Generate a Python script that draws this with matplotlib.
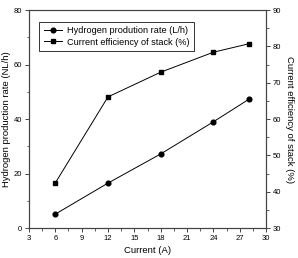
import numpy as np
import matplotlib.pyplot as plt

plt.rcParams['font.family'] = ['Liberation Sans', 'DejaVu Sans']

current = [6, 12, 18, 24, 28]
h2_rate = [5.1, 16.5, 27.2, 39.0, 47.2]
efficiency = [42.4, 66.1, 72.9, 78.4, 80.7]

fig = plt.figure(figsize=(2.98, 2.58), dpi=100)
ax = fig.add_axes([0.097, 0.116, 0.796, 0.845])
ax2 = ax.twinx()

l1, = ax.plot(current, h2_rate, 'o-', color='black', ms=3.4, lw=0.7,
              label='Hydrogen prodution rate (L/h)')
l2, = ax2.plot(current, efficiency, 's-', color='black', ms=3.0, lw=0.7,
               label='Current efficiency of stack (%)')

ax.set_xlim(3, 30)
ax.set_ylim(0, 80)
ax2.set_ylim(30, 90)
ax.set_xticks(np.arange(3, 31, 3))
ax.set_xticks(np.arange(3, 30, 1.5), minor=True)
ax.set_yticks(np.arange(0, 81, 20))
ax.set_yticks(np.arange(0, 81, 10), minor=True)
ax2.set_yticks(np.arange(30, 91, 10))
ax2.set_yticks(np.arange(30, 91, 5), minor=True)

for a in (ax, ax2):
    a.tick_params(which='major', length=3, width=0.7, labelsize=5.5, pad=2, color='#444')
    a.tick_params(which='minor', length=1.8, width=0.6, color='#444')
    for s in a.spines.values():
        s.set_color('#444')
        s.set_linewidth(0.8)

ax.set_xlabel('Current (A)', fontsize=6.8, labelpad=3)
ax.set_ylabel('Hydrogen production rate (NL/h)', fontsize=6.8, labelpad=2)
ax2.set_ylabel('Current efficiency of stack (%)', fontsize=6.8, rotation=-90, labelpad=9)

leg = ax.legend(handles=[l1, l2], loc='upper left', bbox_to_anchor=(0.025, 0.965),
                fontsize=6.6, frameon=True, fancybox=False, edgecolor='black',
                handlelength=2.0, handletextpad=0.6, borderpad=0.45, labelspacing=0.25)
leg.get_frame().set_linewidth(0.7)

fig.savefig('out.png', dpi=100)
